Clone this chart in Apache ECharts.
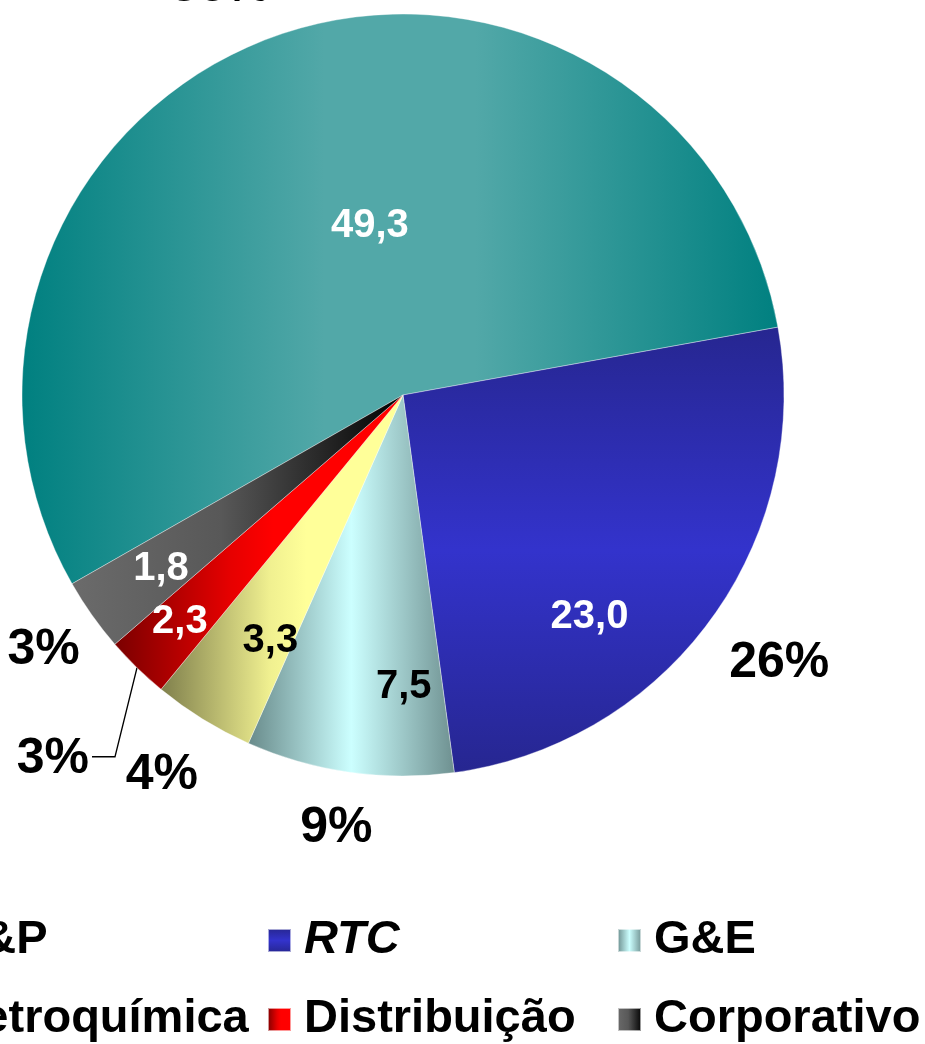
<!DOCTYPE html>
<html><head><meta charset="utf-8">
<script src="https://cdn.jsdelivr.net/npm/echarts@6/dist/echarts.min.js"></script>
<style>html,body{margin:0;padding:0;background:#fff}#c{width:925px;height:1044px}</style>
</head><body><div id="c"></div>
<script>
const categories = ['E&P', 'RTC', 'G&E', 'Petroquímica', 'Distribuição', 'Corporativo'];
const shares = [55.4, 25.7, 8.8, 4.3, 2.7, 3.1];
const values = [49.3, 23.0, 7.5, 3.3, 2.3, 1.8];
const percentLabels = ['56%', '26%', '9%', '4%', '3%', '3%'];

const FONT = "'Liberation Sans', Arial, Helvetica, sans-serif";
const G = echarts.graphic.LinearGradient;
const fills = [
  new G(0,0,1,0,[{offset:0,color:'#008080'},{offset:0.4,color:'#52a8a8'},{offset:0.6,color:'#52a8a8'},{offset:1,color:'#008080'}]),
  new G(0,0,0,1,[{offset:0,color:'#262690'},{offset:0.5,color:'#3333cc'},{offset:1,color:'#262690'}]),
  new G(0,0,1,0,[{offset:0,color:'#688a8a'},{offset:0.5,color:'#ccffff'},{offset:1,color:'#6e9090'}]),
  new G(0,0,1,0,[{offset:0,color:'#7f7f4c'},{offset:0.45,color:'#f0f090'},{offset:0.6,color:'#ffff99'},{offset:1,color:'#ffff99'}]),
  new G(0,0,1,0,[{offset:0,color:'#7a0000'},{offset:0.4,color:'#e60000'},{offset:0.55,color:'#ff0000'},{offset:1,color:'#ff0000'}]),
  new G(0,0,1,0,[{offset:0,color:'#6b6b6b'},{offset:0.45,color:'#585858'},{offset:1,color:'#000000'}])
];
const innerColors = ['#fff','#fff','#000','#000','#fff','#fff'];
const innerShift = [[33,13],[30,108],[28,100],[-31,81],[-88,88],[-84,62]];
const outerShift = [[-31,9],[17,7],[-4,-6],[-8,2],[0,0],[3,-1]];

const CENTER = [403, 395];
const R = 381;
const START = 209.7;

function shifted(shift) {
  return function (p) {
    const s = shift[p.dataIndex];
    return {
      x: p.labelRect.x + p.labelRect.width / 2 + s[0],
      y: p.labelRect.y + p.labelRect.height / 2 + s[1],
      align: 'center', verticalAlign: 'middle'
    };
  };
}

const chart = echarts.init(document.getElementById('c'), null, {renderer: 'canvas'});
const legendBase = {
  orient: 'vertical', top: 917, padding: 0, itemWidth: 23, itemHeight: 23, itemGap: 32,
  selectedMode: false, icon: 'rect',
  textStyle: {fontFamily: FONT, fontWeight: 'bold', fontSize: 47, color: '#000', padding: [0,0,0,8]}
};
chart.setOption({
  animation: false,
  backgroundColor: '#fff',
  legend: [
    Object.assign({}, legendBase, {left: -86, data: [categories[0], categories[3]]}),
    Object.assign({}, legendBase, {left: 267, data: [{name: categories[1], textStyle: {fontStyle: 'italic'}}, categories[4]]}),
    Object.assign({}, legendBase, {left: 617, data: [categories[2], categories[5]]})
  ],
  series: [
    {
      type: 'pie', center: CENTER, radius: [0, R], startAngle: START, clockwise: true,
      avoidLabelOverlap: false, silent: true, emphasis: {disabled: true},
      itemStyle: {borderColor: 'rgba(255,255,255,0.6)', borderWidth: 0.6},
      label: {
        show: true, position: 'inside',
        formatter: p => values[p.dataIndex].toFixed(1).replace('.', ','),
        fontFamily: FONT, fontWeight: 'bold', fontSize: 40
      },
      labelLine: {show: false},
      labelLayout: shifted(innerShift),
      data: categories.map((n, i) => ({name: n, value: shares[i], itemStyle: {color: fills[i]}, label: {color: innerColors[i]}}))
    },
    {
      type: 'pie', center: CENTER, radius: [R, R + 120], startAngle: START, clockwise: true,
      avoidLabelOverlap: false, silent: true, emphasis: {disabled: true},
      itemStyle: {color: 'rgba(0,0,0,0)'},
      label: {
        show: true, position: 'inside', color: '#000',
        formatter: p => percentLabels[p.dataIndex],
        fontFamily: FONT, fontWeight: 'bold', fontSize: 50
      },
      labelLine: {show: false},
      labelLayout: shifted(outerShift),
      data: categories.map((n, i) => ({name: n, value: shares[i], label: {show: i !== 4}}))
    },
    {
      type: 'pie', center: CENTER, radius: [0, R], startAngle: START, clockwise: true,
      avoidLabelOverlap: false, silent: true, emphasis: {disabled: true},
      itemStyle: {color: 'rgba(0,0,0,0)'},
      label: {show: false}, labelLine: {show: false},
      labelLayout: function (p) {
        if (p.dataIndex !== 4 || !p.labelLinePoints) return {};
        const a = p.labelLinePoints[0];
        const b = [a[0] - 22, a[1] + 89];
        const c = [a[0] - 45, a[1] + 89];
        return {x: c[0] - 3, y: c[1] + 2, align: 'right', verticalAlign: 'middle', labelLinePoints: [a, b, c]};
      },
      data: categories.map((n, i) => i === 4 ? {
        name: n, value: shares[i],
        label: {show: true, position: 'outside', formatter: percentLabels[i], color: '#000',
                fontFamily: FONT, fontWeight: 'bold', fontSize: 50},
        labelLine: {show: true, length: 10, length2: 10, lineStyle: {color: '#000', width: 1.3}}
      } : {name: n, value: shares[i]})
    }
  ]
});
</script>
</body></html>
